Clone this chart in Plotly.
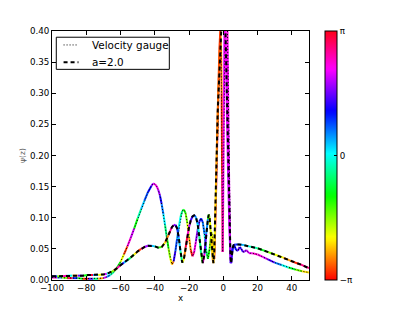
import math
import plotly.graph_objects as go
from plotly.colors import sample_colorscale

PI = math.pi

# ---------------- data ----------------
series_names = ["Velocity gauge", "a=2.0"]

xA = [-100, -97, -94, -91, -88, -85, -82, -79, -76, -73,
      -70, -68, -66, -64, -62, -60, -58, -56, -54, -52,
      -50, -48, -46, -44, -42, -41, -40, -39, -38, -37,
      -36, -35, -34, -33, -32, -31, -30, -29, -28, -27,
      -26, -25, -24, -23, -22, -21, -20, -19, -18, -17,
      -16, -15, -14, -13, -12, -11, -10, -9, -8, -7,
      -6.3, -5.7, -5.3, -5, -4.5, -4, -3.5, -3, -2.5, -2,
      -1.7, -1.3, -1, -0.7, -0.4, -0.1, 0.3, 0.7, 1.1, 1.5,
      2, 2.5, 3, 3.5, 4, 4.3, 4.8, 5.5, 6.5, 7.5,
      8.5, 9.5, 10.5, 11.5, 12.5, 13.5, 15, 17, 20, 23,
      26, 30, 34, 38, 42, 46, 50]
yA = [0.004, 0.004, 0.004, 0.003, 0.003, 0.003, 0.002, 0.002, 0.002, 0.002,
      0.003, 0.005, 0.008, 0.013, 0.020, 0.029, 0.041, 0.054, 0.068, 0.083,
      0.099, 0.114, 0.128, 0.141, 0.151, 0.155, 0.154, 0.151, 0.145, 0.136,
      0.122, 0.106, 0.088, 0.069, 0.051, 0.035, 0.025, 0.030, 0.046, 0.066,
      0.085, 0.101, 0.111, 0.113, 0.107, 0.091, 0.068, 0.048, 0.038, 0.045,
      0.062, 0.080, 0.094, 0.099, 0.093, 0.074, 0.048, 0.034, 0.050, 0.077,
      0.070, 0.045, 0.034, 0.055, 0.110, 0.170, 0.230, 0.285, 0.335, 0.375,
      0.394, 0.370, 0.300, 0.170, 0.045, 0.120, 0.280, 0.420, 0.500, 0.520,
      0.480, 0.380, 0.250, 0.130, 0.050, 0.027, 0.040, 0.052, 0.055, 0.048,
      0.047, 0.053, 0.050, 0.045, 0.046, 0.048, 0.043, 0.043, 0.041, 0.037,
      0.033, 0.028, 0.024, 0.020, 0.017, 0.014, 0.012]
phaseA = [2.5, 0.5, -1.5, 3.0, 1.0, -1.0, -3.0, 1.5, -0.5, -2.5,
          2.0, 0.5, -0.3, -0.6, -1.0, -2.0, -2.9, 2.3, 2.0, -1.0,
          -0.3, 0.3, 0.8, 1.1, 1.7, 2.1, 2.3, 2.2, 1.8, 1.2,
          0.6, 0.1, -0.5, -1.0, -1.6, -2.1, -2.6, 1.3, 0.8, 0.4,
          0.0, -0.4, -0.8, -1.1, -1.5, -2.0, -2.5, -3.0, 2.6, 2.2,
          1.7, 1.4, 1.1, 1.0, 0.6, 0.0, -0.6, -1.1, -1.5, -1.9,
          -2.2, -2.6, -2.9, 2.9, 2.8, 2.7, -3.0, -2.8, -2.7, -2.6,
          -2.5, -2.7, -3.0, 2.8, 2.4, 2.2, 2.1, 2.2, 2.2, 2.3,
          2.3, 2.2, 2.1, 2.0, 1.6, 1.2, 1.0, 1.0, 1.1, 1.3,
          1.5, 1.3, 1.4, 1.6, 1.8, 2.0, 2.2, 2.4, 2.3, 2.0,
          1.4, 0.6, 0.0, -0.8, -1.5, -2.2, 0.5]

xB = [-100, -97, -94, -91, -88, -85, -82, -79, -76, -73,
      -70, -68, -66, -64, -62, -60, -58, -56, -54, -52,
      -50, -48, -46, -44, -42, -40, -38, -36, -34, -32,
      -31, -30, -29, -28, -27, -26, -25, -24, -23, -22,
      -21, -20, -19, -18, -17, -16, -15, -14, -13, -12,
      -11, -10, -9, -8.5, -8, -7, -6.3, -5.8, -5.3, -4.8,
      -4.3, -3.8, -3.3, -2.8, -2.3, -1.8, -1.3, -0.8, -0.3, 0.2,
      0.7, 1.2, 1.7, 2.2, 2.7, 3.2, 3.7, 4.2, 4.6, 5,
      5.5, 6, 7, 8, 9, 10, 12, 15, 20, 25,
      30, 35, 40, 45, 50]
yB = [0.006, 0.006, 0.006, 0.007, 0.007, 0.007, 0.007, 0.008, 0.008, 0.008,
      0.009, 0.010, 0.012, 0.015, 0.019, 0.024, 0.028, 0.032, 0.036, 0.041,
      0.046, 0.050, 0.053, 0.055, 0.055, 0.054, 0.052, 0.053, 0.060, 0.072,
      0.079, 0.085, 0.088, 0.089, 0.083, 0.068, 0.046, 0.028, 0.034, 0.052,
      0.070, 0.085, 0.096, 0.102, 0.104, 0.101, 0.090, 0.070, 0.043, 0.027,
      0.042, 0.074, 0.098, 0.105, 0.100, 0.065, 0.035, 0.027, 0.045, 0.090,
      0.150, 0.210, 0.270, 0.320, 0.370, 0.400, 0.430, 0.460, 0.480, 0.490,
      0.470, 0.410, 0.330, 0.250, 0.180, 0.120, 0.070, 0.035, 0.027, 0.040,
      0.052, 0.056, 0.057, 0.057, 0.057, 0.057, 0.056, 0.054, 0.051, 0.046,
      0.041, 0.036, 0.030, 0.025, 0.019]
phaseB = [1.0, -1.5, 2.5, 0.0, -2.5, 1.5, -1.0, 3.0, 0.5, -2.0,
          2.0, 0.0, -1.5, -2.5, 2.5, 1.2, 0.3, -0.6, -1.4, -2.2,
          -2.9, 2.6, 1.8, 1.0, 0.3, -0.4, -1.2, -2.0, -2.6, 3.0,
          2.6, 2.2, 1.8, 1.4, 0.9, 0.3, -0.5, -2.0, -2.6, 3.0,
          2.4, 1.9, 1.4, 1.0, 0.7, 0.4, 0.0, -0.5, -1.2, 2.3,
          1.5, 0.5, -1.0, -1.6, -2.0, -2.3, -2.5, -2.3, -2.1, -2.2,
          -2.4, -2.6, -2.7, -2.8, -2.9, -3.0, 3.1, 2.9, 2.6, 2.4,
          2.3, 2.2, 2.1, 2.1, 2.0, 2.0, 1.9, 1.7, 1.4, 1.2,
          1.1, 1.1, 1.0, 0.8, 0.6, 0.4, 0.1, -0.3, -0.9, -1.5,
          -2.0, -2.5, -3.0, 2.7, 2.2]

x_ticks = [-100, -80, -60, -40, -20, 0, 20, 40]
y_ticks = [0.00, 0.05, 0.10, 0.15, 0.20, 0.25, 0.30, 0.35, 0.40]
cbar_tickvals = [-PI, 0, PI]
cbar_ticktext = ["\u2212\u03c0", "0", "\u03c0"]

# matplotlib-like 'hsv' colour map
HSV = [
    [0.0, "rgb(255,0,0)"], [0.1587, "rgb(255,239,0)"], [0.1746, "rgb(247,255,0)"],
    [0.3333, "rgb(8,255,0)"], [0.3492, "rgb(0,255,16)"], [0.5079, "rgb(0,255,255)"],
    [0.6667, "rgb(0,16,255)"], [0.6825, "rgb(8,0,255)"], [0.8413, "rgb(247,0,255)"],
    [0.8571, "rgb(255,0,239)"], [1.0, "rgb(255,0,24)"],
]

FONT = "DejaVu Sans"


def phase_color(p):
    t = (p + PI) / (2 * PI)
    t = min(max(t, 0.0), 1.0)
    return sample_colorscale(HSV, [t])[0]


fig = go.Figure()


def add_colored(xs, ys, ph):
    for i in range(len(xs) - 1):
        fig.add_trace(go.Scatter(
            x=[xs[i], xs[i + 1]], y=[ys[i], ys[i + 1]], mode="lines",
            line=dict(color=phase_color(ph[i]), width=2),
            showlegend=False, hoverinfo="skip"))


add_colored(xA, yA, phaseA)
fig.add_trace(go.Scatter(x=xA, y=yA, mode="lines", name=series_names[0],
                         line=dict(color="black", width=1, dash="1px,2px"),
                         showlegend=False))
add_colored(xB, yB, phaseB)
fig.add_trace(go.Scatter(x=xB, y=yB, mode="lines", name=series_names[1],
                         line=dict(color="black", width=2, dash="4px,3px"),
                         showlegend=False))

# colour bar for the phase
fig.add_trace(go.Scatter(
    x=[None], y=[None], mode="markers", showlegend=False, hoverinfo="skip",
    marker=dict(color=[0], cmin=-PI, cmax=PI, colorscale=HSV, showscale=True,
                colorbar=dict(thickness=12, thicknessmode="pixels", len=1,
                              lenmode="fraction", x=1.061, xanchor="left",
                              y=0.5, yanchor="middle", xpad=0, ypad=0,
                              outlinewidth=1, outlinecolor="black",
                              tickvals=cbar_tickvals, ticktext=cbar_ticktext,
                              ticks="inside", ticklen=3, tickcolor="black",
                              tickfont=dict(family=FONT, size=8.7, color="black")))))

axis_common = dict(ticks="inside", ticklen=4, tickcolor="black", mirror="ticks",
                   showline=True, linecolor="black", linewidth=1, showgrid=False,
                   zeroline=False, automargin=False,
                   tickfont=dict(family=FONT, size=8.7, color="black"))

# the page body adds an 8px offset, margins compensate for it
fig.update_layout(
    width=415, height=312, autosize=False,
    margin=dict(l=44, r=114, t=23, b=40),
    paper_bgcolor="white", plot_bgcolor="white",
    font=dict(family=FONT, size=8.7, color="black"),
    showlegend=False,
    xaxis=dict(range=[-100, 50], tickvals=x_ticks,
               title=dict(text="x", font=dict(family=FONT, size=8.7), standoff=2),
               **axis_common),
    yaxis=dict(range=[0, 0.4], tickvals=y_ticks, tickformat=".2f",
               title=dict(text="\u03c8(z)", font=dict(family=FONT, size=7.5, color="#555555"),
                          standoff=3),
               **axis_common),
)

# legend box drawn by hand (matplotlib style)
lg_x0, lg_x1, lg_y0, lg_y1 = 0.0167, 0.4565, 0.846, 0.975
fig.add_shape(type="rect", xref="paper", yref="paper", x0=lg_x0, x1=lg_x1, y0=lg_y0, y1=lg_y1,
              line=dict(color="black", width=1), fillcolor="white", layer="above")
rows_y = [0.944, 0.874]
fig.add_shape(type="line", xref="paper", yref="paper", x0=0.045, x1=0.103, y0=rows_y[0], y1=rows_y[0],
              line=dict(color="black", width=1, dash="1px,2px"), layer="above")
fig.add_shape(type="line", xref="paper", yref="paper", x0=0.045, x1=0.103, y0=rows_y[1], y1=rows_y[1],
              line=dict(color="black", width=2, dash="4px,3px"), layer="above")
for name, ry in zip(series_names, rows_y):
    fig.add_annotation(xref="paper", yref="paper", x=0.1487, y=ry, xanchor="left",
                       yanchor="middle", text=name, showarrow=False,
                       font=dict(family=FONT, size=10.4, color="black"))

fig.write_html("out.html")
